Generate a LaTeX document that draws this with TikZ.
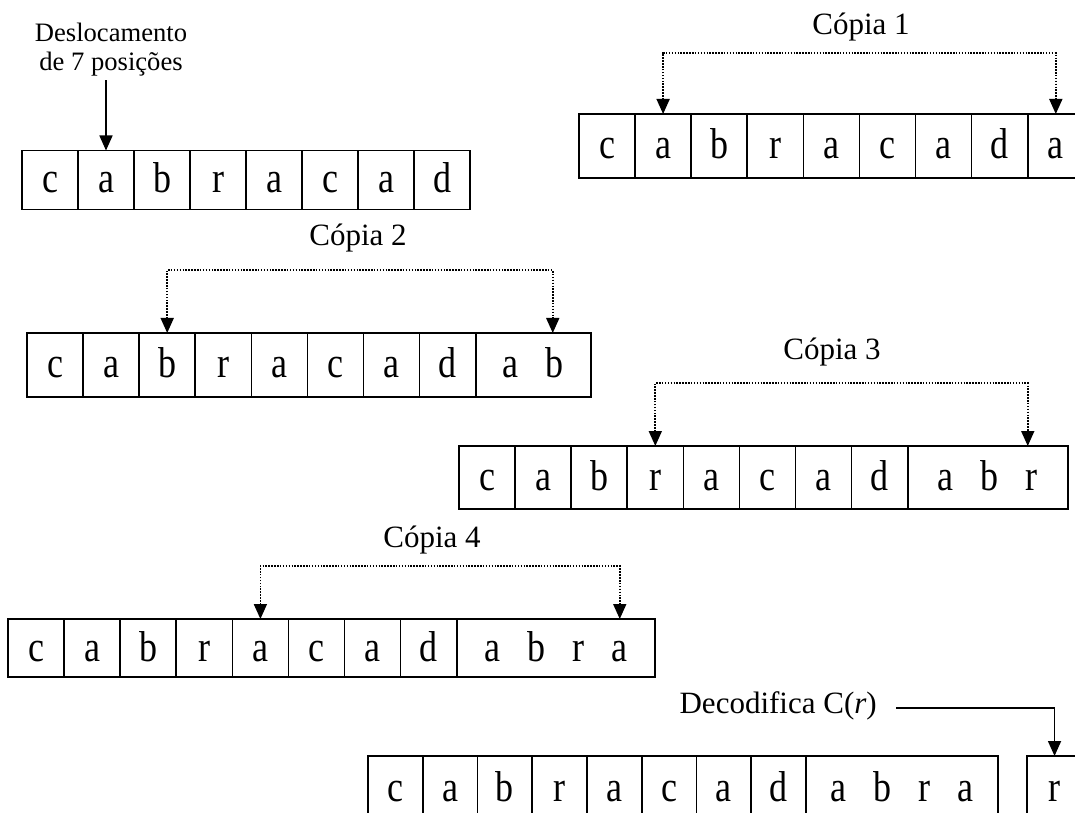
\documentclass[tikz,border=0pt]{standalone}
\usepackage{fontspec}
\setmainfont{Liberation Serif}
\usepackage{graphicx}
\usepackage{tikz}
\usetikzlibrary{chains,positioning,arrows.meta}

\newcommand\celltxt{\fontsize{36}{40}\selectfont}
\newcommand\lbltxt{\fontsize{31}{37}\selectfont}
\newcommand\notetxt{\fontsize{26.6}{29}\selectfont}
\newcommand\tallglyph[1]{\scalebox{1}[1.2]{#1}}
\newcommand\gp{\hspace{27pt}}

\begin{document}
\begin{tikzpicture}[x=1pt,y=1pt,>={Triangle[length=15pt,width=13pt]},
  cell/.style={draw,line width=1.6pt,inner sep=0pt,outer sep=0pt,
    minimum width=56.1pt,text height=28pt,text depth=2pt,font=\celltxt},
  copyline/.style={line width=1.7pt,dash pattern=on 1.5pt off 1.4pt},
  pointer/.style={line width=1.6pt,->},
  lbl/.style={font=\lbltxt,inner sep=0pt,anchor=base}]

\clip (0,0) rectangle (1075,812);

% window after the shift
\begin{scope}[shift={(50,632)},start chain=going right,node distance=0pt]
\def\shrow{1/c,2/a,3/b,4/r,5/a,6/c,7/a,8/d}
\foreach \i / \element in \shrow
  \node [cell,minimum width=56pt,minimum height=59pt,on chain] (s\i) {\tallglyph{\element}};
\end{scope}

\node[font=\notetxt,align=center] (desl) at (111,762) {Deslocamento\\de 7 posições};
\draw[pointer] (desl.south -| s2.north) -- (s2.north);

% copy 1
\begin{scope}[shift={(607,666)},start chain=going right,node distance=0pt]
\def\carow{1/c,2/a,3/b,4/r,5/a,6/c,7/a,8/d,9/a}
\foreach \i / \element in \carow
  \node [cell,minimum height=64pt,on chain] (ca\i) {\tallglyph{\element}};
\end{scope}

\node[lbl] (c1) at (861,777) {Cópia 1};
\draw[copyline,<->] (ca2.north) -- ++(0,61) -| (ca9.north);

% copy 2
\begin{scope}[shift={(55,447)},start chain=going right,node distance=0pt]
\def\cbrow{1/c/56.1,2/a/56.1,3/b/56.1,4/r/56.1,5/a/56.1,6/c/56.1,7/a/56.1,8/d/56.1,9/{a\gp b}/115}
\foreach \i / \element / \w in \cbrow
  \node [cell,minimum width=\w pt,minimum height=64pt,on chain] (cb\i) {\tallglyph{\element}};
\end{scope}

\node[lbl] (c2) at (358,566) {Cópia 2};
\coordinate (cbend) at ([xshift=-38pt]cb9.north east);
\draw[copyline,<->] (cb3.north) -- ++(0,63) -| (cbend);

% copy 3
\begin{scope}[shift={(487,334.5)},start chain=going right,node distance=0pt]
\def\ccrow{1/c/56.1,2/a/56.1,3/b/56.1,4/r/56.1,5/a/56.1,6/c/56.1,7/a/56.1,8/d/56.1,9/{a\gp b\gp r}/160}
\foreach \i / \element / \w in \ccrow
  \node [cell,minimum width=\w pt,minimum height=63pt,on chain] (cc\i) {\tallglyph{\element}};
\end{scope}

\node[lbl] (c3) at (832,452) {Cópia 3};
\coordinate (ccend) at ([xshift=-40pt]cc9.north east);
\draw[copyline,<->] (cc4.north) -- ++(0,63) -| (ccend);

% copy 4
\begin{scope}[shift={(36,164)},start chain=going right,node distance=0pt]
\def\cdrow{1/c/56.1,2/a/56.1,3/b/56.1,4/r/56.1,5/a/56.1,6/c/56.1,7/a/56.1,8/d/56.1,9/{a\gp b\gp r\gp a}/198}
\foreach \i / \element / \w in \cdrow
  \node [cell,minimum width=\w pt,minimum height=58pt,on chain] (cd\i) {\tallglyph{\element}};
\end{scope}

\node[lbl] (c4) at (432,265) {Cópia 4};
\coordinate (cdend) at ([xshift=-35pt]cd9.north east);
\draw[copyline,<->] (cd5.north) -- ++(0,53) -| (cdend);

% decoding
\begin{scope}[shift={(395.4,24)},start chain=going right,node distance=0pt]
\def\cerow{1/c/54.75,2/a/54.75,3/b/54.75,4/r/54.75,5/a/54.75,6/c/54.75,7/a/54.75,8/d/54.75,9/{a\gp b\gp r\gp a}/192}
\foreach \i / \element / \w in \cerow
  \node [cell,minimum width=\w pt,minimum height=64pt,on chain] (ce\i) {\tallglyph{\element}};
\end{scope}
\node[cell,minimum width=55pt,minimum height=64pt,right=29pt of ce9] (er) {\tallglyph{r}};

\node[lbl,anchor=base east] (dec) at (877,99) {Decodifica C(\textit{r})};
\draw[pointer] ([xshift=19pt,yshift=5pt]dec.base east) -| (er.north);

\end{tikzpicture}
\end{document}
